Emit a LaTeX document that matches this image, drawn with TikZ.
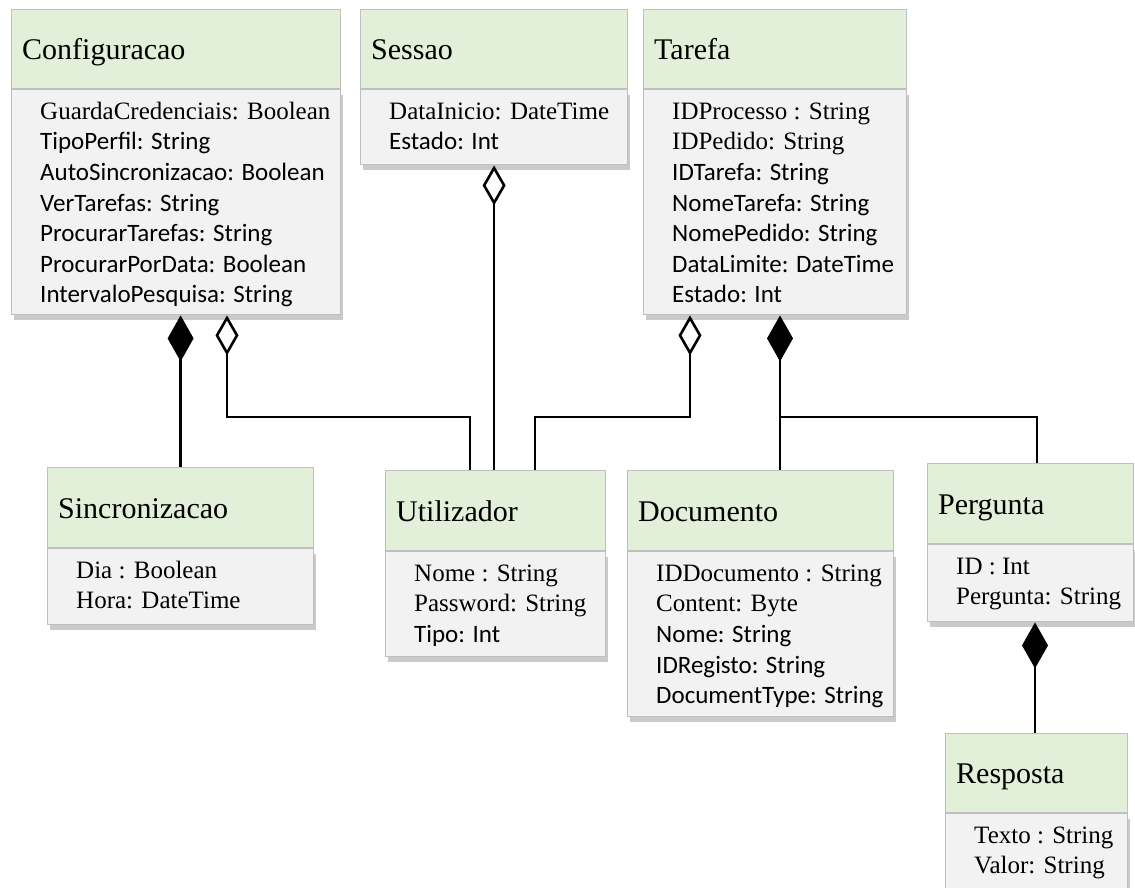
\documentclass[tikz,border=0pt]{standalone}
\usepackage{fontspec}
\setmainfont{Liberation Serif}
\newfontfamily\calib{Carlito}
\usetikzlibrary{arrows.meta,shadows,calc}

\definecolor{hdrgreen}{HTML}{E2EFD9}
\definecolor{bodygray}{HTML}{F2F2F2}
\definecolor{boxline}{HTML}{BFBFBF}

\tikzset{
  hdr/.style={draw=boxline, fill=hdrgreen, line width=1.2pt, inner sep=0pt},
  bodybox/.style={draw=boxline, fill=bodygray, line width=1.2pt, inner sep=0pt,
    drop shadow={shadow xshift=2pt, shadow yshift=-5pt, opacity=0.35, fill=black!60}},
  ttl/.style={inner sep=0pt, font=\fontsize{30}{36}\selectfont},
  attr/.style={inner sep=0pt, font=\fontsize{25}{30.6}\selectfont},
  link/.style={line width=2.6pt},
  agg/.style={link, -{Diamond[open, length=40pt, width=23pt]}},
  comp/.style={link, -{Diamond[length=46pt, width=26pt]}},
}

% class box: name, left, top, width, header height, body height, title, attributes
\newcommand\umlclass[8]{%
  \node[hdr, minimum width=#4, minimum height=#5, anchor=north west] (#1) at (#2,#3) {};
  \node[bodybox, minimum width=#4, minimum height=#6, anchor=north] (#1-b) at (#1.south) {};
  \node[ttl, anchor=base west] (#1-t) at ([xshift=11pt,yshift=30pt]#1.south west) {#7};
  \node[attr, anchor=base west] (#1-a) at ([xshift=29pt,yshift=-30pt]#1-b.north west)
    {\begin{tabular}[t]{@{}l@{}}#8\end{tabular}};
}

\begin{document}
\begin{tikzpicture}
\useasboundingbox (0,0) rectangle (1135pt,-887pt);

\umlclass{conf}{11pt}{-9pt}{329pt}{79pt}{225pt}{Configuracao}{%
  GuardaCredenciais: Boolean\\
  {\calib TipoPerfil: String}\\
  {\calib AutoSincronizacao: Boolean}\\
  {\calib VerTarefas: String}\\
  {\calib ProcurarTarefas: String}\\
  {\calib ProcurarPorData: Boolean}\\
  {\calib IntervaloPesquisa: String}}

\umlclass{sess}{360pt}{-9pt}{267pt}{79pt}{75pt}{Sessao}{%
  DataInicio: DateTime\\
  {\calib Estado: Int}}

\umlclass{tar}{643pt}{-9pt}{263pt}{79pt}{225pt}{Tarefa}{%
  IDProcesso : String\\
  IDPedido: String\\
  {\calib IDTarefa: String}\\
  {\calib NomeTarefa: String}\\
  {\calib NomePedido: String}\\
  {\calib DataLimite: DateTime}\\
  {\calib Estado: Int}}

\umlclass{sinc}{47pt}{-467pt}{266pt}{80pt}{76pt}{Sincronizacao}{%
  Dia : Boolean\\
  Hora: DateTime}

\umlclass{util}{385pt}{-470pt}{220pt}{80pt}{105pt}{Utilizador}{%
  Nome : String\\
  Password: String\\
  {\calib Tipo: Int}}

\umlclass{doc}{627pt}{-470pt}{266pt}{80pt}{165pt}{Documento}{%
  IDDocumento : String\\
  Content: Byte\\
  {\calib Nome: String}\\
  {\calib IDRegisto: String}\\
  {\calib DocumentType: String}}

\umlclass{per}{927pt}{-463pt}{206pt}{80pt}{77pt}{Pergunta}{%
  ID : Int\\
  Pergunta: String}

\umlclass{resp}{945pt}{-733pt}{182pt}{79pt}{85pt}{Resposta}{%
  Texto : String\\
  Valor: String}

% attachment points on the class boxes
\coordinate (conf-agg) at ([xshift=216pt]conf-b.south west);
\coordinate (u-conf)   at ([xshift=85pt]util.north west);
\coordinate (u-tar)    at ([xshift=150pt]util.north west);
\coordinate (tar-agg)  at ([xshift=47pt]tar-b.south west);
\coordinate (tar-comp) at ([xshift=137pt]tar-b.south west);
\coordinate (p-tar)    at ([xshift=110pt]per.north west);
\coordinate (per-comp) at ([xshift=108pt]per-b.south west);

% Configuracao
\draw[comp] (sinc.north) -- (sinc.north |- conf-b.south);
\draw[agg] (u-conf) -- ++(0,53pt) -| (conf-agg);
% Sessao
\draw[agg] (sess-b.south |- util.north) -- (sess-b.south);
% Tarefa
\draw[agg] (u-tar) -- ++(0,53pt) -| (tar-agg);
\draw[comp] (tar-comp |- doc.north) -- (tar-comp);
\draw[link] (p-tar) |- ($(tar-comp |- doc.north)+(0,53pt)$);
% Pergunta
\draw[comp] (per-comp |- resp.north) -- (per-comp);
\end{tikzpicture}
\end{document}
